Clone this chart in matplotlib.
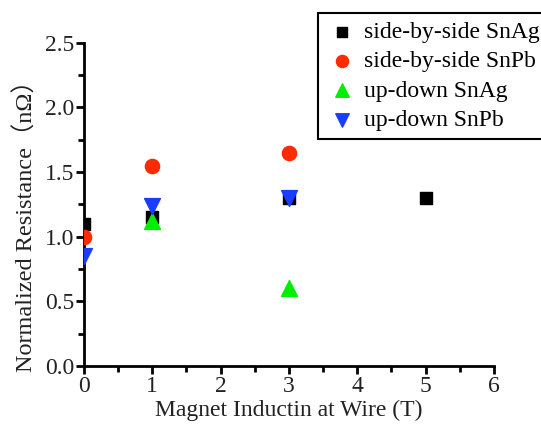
import matplotlib
matplotlib.use('Agg')
import matplotlib.pyplot as plt
from matplotlib.ticker import MultipleLocator

# ---- data ----
sbs_snag_x = [0, 1, 3, 5]
sbs_snag_y = [1.1, 1.15, 1.3, 1.3]
sbs_snpb_x = [0, 1, 3]
sbs_snpb_y = [1.0, 1.55, 1.65]
ud_snag_x = [1, 3]
ud_snag_y = [1.12, 0.6]
ud_snpb_x = [0, 1, 3]
ud_snpb_y = [0.85, 1.24, 1.3]

plt.rcParams['font.family'] = ['Liberation Serif', 'DejaVu Serif']

fig = plt.figure(figsize=(5.41, 4.24), dpi=100)
ax = fig.add_axes([0.155, 0.137, 0.758, 0.762])

ax.scatter(sbs_snag_x, sbs_snag_y, marker='s', s=85, color='black', label='side-by-side SnAg', zorder=3)
ax.scatter(sbs_snpb_x, sbs_snpb_y, marker='o', s=105, color='#ff2a00', label='side-by-side SnPb', zorder=3)
ax.scatter(ud_snag_x, ud_snag_y, marker='^', s=130, color='#00ee00', label='up-down SnAg', zorder=4)
ax.scatter(ud_snpb_x, ud_snpb_y, marker='v', s=130, color='#1a3cff', label='up-down SnPb', zorder=4)

ax.set_xlim(0, 6)
ax.set_ylim(0, 2.5)
ax.xaxis.set_major_locator(MultipleLocator(1))
ax.xaxis.set_minor_locator(MultipleLocator(0.5))
ax.yaxis.set_major_locator(MultipleLocator(0.5))
ax.yaxis.set_minor_locator(MultipleLocator(0.25))
ax.yaxis.set_major_formatter(plt.FormatStrFormatter('%.1f'))

for side in ['top', 'right']:
    ax.spines[side].set_visible(False)
for side in ['left', 'bottom']:
    ax.spines[side].set_linewidth(2)

ax.tick_params(which='major', direction='out', length=6, width=2, labelsize=17, colors='black',
               labelcolor='#222222', pad=1)
ax.tick_params(which='minor', direction='out', length=4, width=2)

ax.set_xlabel('Magnet Inductin at Wire (T)', fontsize=17, color='#222222', labelpad=2)
ax.set_ylabel('Normalized Resistance（nΩ）', fontsize=17.5, color='#222222',
              family=['Liberation Serif', 'Noto Sans CJK SC'])
ax.yaxis.set_label_coords(-0.112, 0.45)

leg = ax.legend(loc='upper left', bbox_to_anchor=(0.588, 0.969), bbox_transform=fig.transFigure,
                fontsize=17, frameon=True, fancybox=False, handletextpad=0.3,
                labelspacing=0.33, borderpad=0.35, borderaxespad=0, scatterpoints=1,
                handlelength=1.3, markerscale=0.85)
leg.get_frame().set_edgecolor('black')
leg.get_frame().set_linewidth(1.5)
leg.get_frame().set_alpha(1)

fig.savefig('out.png', dpi=100)
